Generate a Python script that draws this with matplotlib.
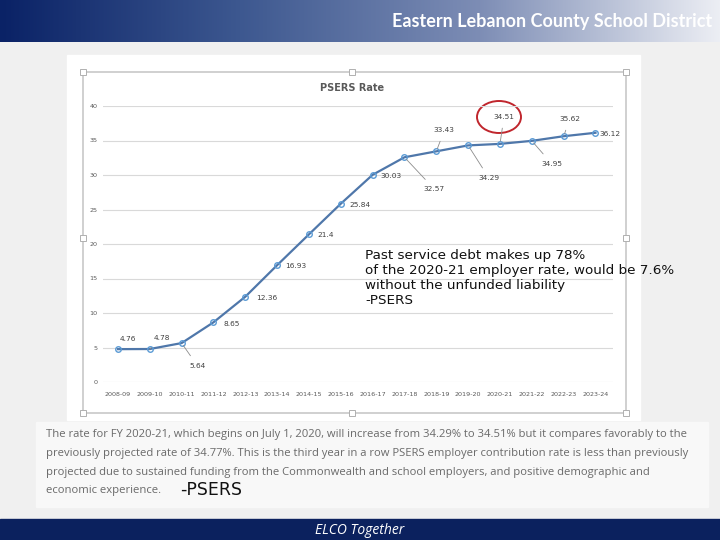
import numpy as np
import matplotlib.pyplot as plt
from matplotlib.patches import Rectangle, Ellipse
from matplotlib.colors import LinearSegmentedColormap

years = ["2008-09", "2009-10", "2010-11", "2011-12", "2012-13", "2013-14", "2014-15",
         "2015-16", "2016-17", "2017-18", "2018-19", "2019-20", "2020-21", "2021-22",
         "2022-23", "2023-24"]
rates = [4.76, 4.78, 5.64, 8.65, 12.36, 16.93, 21.4, 25.84, 30.03, 32.57, 33.43,
         34.29, 34.51, 34.95, 35.62, 36.12]
y_ticks = [0, 5, 10, 15, 20, 25, 30, 35, 40]

# label offsets in pixels (dx, dy) and whether a leader line is drawn
label_offsets = [(10, 10), (12, 11), (16, -23), (18, -2), (21, -1), (19, -1), (17, -1),
                 (19, -1), (18, -1), (30, -32), (8, 21), (21, -33), (4, 27),
                 (20, -23), (6, 17), (15, -1)]
leaders = [False, True, True, False, False, False, False, False, False, True, True,
           True, True, True, True, False]

note = ("Past service debt makes up 78%\n"
        "of the 2020-21 employer rate, would be 7.6%\n"
        "without the unfunded liability\n"
        "-PSERS")
quote = ["The rate for FY 2020-21, which begins on July 1, 2020, will increase from 34.29% to 34.51% but it compares favorably to the",
         "previously projected rate of 34.77%. This is the third year in a row PSERS employer contribution rate is less than previously",
         "projected due to sustained funding from the Commonwealth and school employers, and positive demographic and",
         "economic experience."]

W, H = 720, 540
fig = plt.figure(figsize=(7.2, 5.4), dpi=100)

# slide background in pixel coordinates
bg = fig.add_axes([0, 0, 1, 1])
bg.set_xlim(0, W)
bg.set_ylim(H, 0)
bg.axis("off")
bg.add_patch(Rectangle((0, 0), W, H, color="#f0f0f0", zorder=0))

# header gradient
grad = np.linspace(0, 1, 256)[None, :]
hdr = LinearSegmentedColormap.from_list("hdr", ["#0a2266", "#3d5890", "#7d8db5", "#eceef4"])
bg.imshow(grad, cmap=hdr, extent=(0, W, 42, 0), aspect="auto", zorder=1)
bg.text(712, 21, "Eastern Lebanon County School District", color="white", fontsize=13,
        fontweight="bold", family="Lato", ha="right", va="center", zorder=2)

# chart picture
bg.add_patch(Rectangle((67, 55), 573, 365, color="white", zorder=1))
bg.add_patch(Rectangle((83, 72), 543, 341, fill=False, ec="#c8c8c8", lw=1.2, zorder=2))
for hx, hy in [(83, 72), (352, 72), (626, 72), (83, 238), (626, 238), (83, 413), (352, 413), (626, 413)]:
    bg.add_patch(Rectangle((hx - 3, hy - 3), 6, 6, fc="white", ec="#b0b0b0", lw=0.7, zorder=3))

# quote box
bg.add_patch(Rectangle((36, 422), 672, 85, color="#f8f8f8", zorder=1))
for i, line in enumerate(quote):
    bg.text(46, 435 + i * 18.5, line, color="#6a6a6a", fontsize=8.1, family="Open Sans",
            va="center", ha="left", zorder=2)
bg.text(180, 490, "-PSERS", color="#111111", fontsize=12.5, family="Liberation Sans Narrow",
        va="center", ha="left", zorder=2)

# footer
bg.add_patch(Rectangle((0, 519), W, 21, color="#0b215e", zorder=1))
bg.text(360, 530, "ELCO Together", color="white", fontsize=10, style="italic",
        family="Open Sans", ha="center", va="center", zorder=2)

# the line chart itself
ax = fig.add_axes([103 / W, 1 - 382 / H, (613 - 103) / W, (382 - 106) / H])
ax.patch.set_alpha(0)
x = np.arange(len(years))
ax.plot(x, rates, color="#4f77aa", lw=1.6, zorder=3)
ax.plot(x, rates, ls="none", marker="o", ms=4, mfc="none", mec="#5b9bd5", mew=1.0, zorder=4)
ax.set_xlim(-0.47, 15.55)
ax.set_ylim(0, 40)
ax.set_yticks(y_ticks)
ax.set_xticks(x)
ax.set_xticklabels(years)
ax.tick_params(axis="both", length=0, labelsize=4.6, labelcolor="#595959")
ax.tick_params(axis="y", pad=4)
ax.tick_params(axis="x", pad=7)
ax.grid(axis="y", color="#d9d9d9", lw=0.8)
for s in ax.spines.values():
    s.set_visible(False)

for xi, v, (dx, dy), ld in zip(x, rates, label_offsets, leaders):
    ax.annotate(f"{v:g}", (xi, v), xytext=(dx, dy), textcoords="offset pixels",
                fontsize=5.3, color="#404040", ha="center", va="center",
                arrowprops=dict(arrowstyle="-", color="#8c8c8c", lw=0.6, shrinkA=4, shrinkB=2) if ld else None,
                zorder=5)

fig.text(352 / W, 1 - 88 / H, "PSERS Rate", fontsize=7, fontweight="bold", color="#595959",
         ha="center", va="center")
bg.add_patch(Ellipse((499, 117), 44, 32, fill=False, ec="#c0262d", lw=1.4, zorder=6))

fig.text(365 / W, 1 - 249 / H, note, fontsize=9.7, color="#111111", ha="left", va="top",
         linespacing=1.2)

fig.savefig("out.png", dpi=100)
